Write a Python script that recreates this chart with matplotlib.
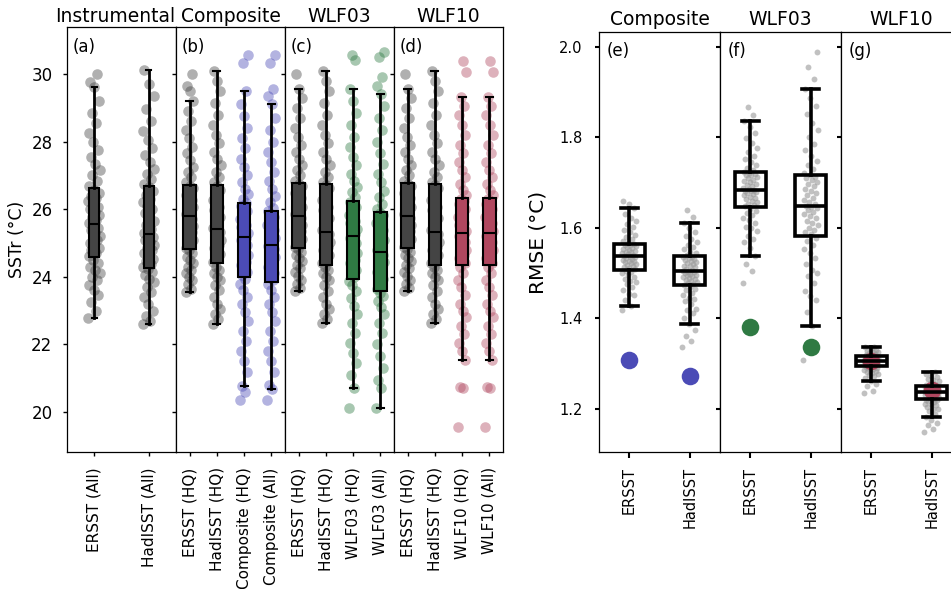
import numpy as np
import matplotlib
matplotlib.use("Agg")
import matplotlib.pyplot as plt

plt.rcParams['font.family'] = ['DejaVu Sans']

# ---------------- data: SSTr panels (a)-(d) ----------------
titles_left = ['Instrumental', 'Composite', 'WLF03', 'WLF10']
panel_left = ['(a)', '(b)', '(c)', '(d)']
labels_a = ['ERSST (All)', 'HadISST (All)']
labels_b = ['ERSST (HQ)', 'HadISST (HQ)', 'Composite (HQ)', 'Composite (All)']
labels_c = ['ERSST (HQ)', 'HadISST (HQ)', 'WLF03 (HQ)', 'WLF03 (All)']
labels_d = ['ERSST (HQ)', 'HadISST (HQ)', 'WLF10 (HQ)', 'WLF10 (All)']

# box statistics per panel: whisker low, Q1, median, Q3, whisker high
stats_a = [[22.78, 24.58, 25.56, 26.62, 29.61], [22.62, 24.27, 25.26, 26.69, 30.12]]
stats_b = [[23.54, 24.82, 25.81, 26.72, 29.19], [22.62, 24.40, 25.41, 26.72, 30.10],
           [20.77, 24.01, 25.18, 26.19, 29.51], [20.67, 23.86, 24.94, 25.96, 29.10]]
stats_c = [[23.57, 24.85, 25.81, 26.77, 29.57], [22.63, 24.34, 25.33, 26.75, 30.10],
           [20.70, 23.94, 25.21, 26.24, 29.57], [20.13, 23.58, 24.74, 25.91, 29.40]]
stats_d = [[23.57, 24.85, 25.81, 26.77, 29.57], [22.63, 24.34, 25.33, 26.75, 30.10],
           [21.54, 24.34, 25.31, 26.32, 29.31], [21.54, 24.34, 25.31, 26.32, 29.31]]

# individual samples
sst_ersst_all = [22.78, 23.0, 23.25, 23.45, 23.6, 23.75, 23.9, 24.0, 24.1, 24.2, 24.3, 24.4, 24.5,
                 24.62, 24.7, 24.78, 24.86, 24.93, 25.0, 25.08, 25.15, 25.22, 25.3, 25.38, 25.45, 25.52,
                 25.6, 25.68, 25.76, 25.84, 25.92, 26.0, 26.08, 26.16, 26.24, 26.32, 26.4, 26.48, 26.58,
                 26.7, 26.85, 27.0, 27.15, 27.35, 27.55, 27.75, 28.0, 28.25, 28.55, 28.85, 29.2, 29.61, 29.75, 30.0]
sst_hadisst_all = [22.62, 22.7, 22.85, 23.0, 23.2, 23.4, 23.55, 23.7, 23.85, 23.95, 24.05, 24.15, 24.22,
                   24.3, 24.38, 24.46, 24.54, 24.62, 24.7, 24.78, 24.86, 24.94, 25.02, 25.1, 25.17, 25.24,
                   25.3, 25.42, 25.54, 25.66, 25.78, 25.9, 26.0, 26.1, 26.2, 26.3, 26.42, 26.54, 26.65,
                   26.75, 26.9, 27.05, 27.2, 27.4, 27.6, 27.8, 28.05, 28.3, 28.6, 28.95, 29.35, 29.7, 30.12]
sst_ersst_hq_b = [23.54, 23.65, 23.78, 23.9, 24.0, 24.1, 24.2, 24.3, 24.4, 24.5, 24.6, 24.7, 24.78,
                  24.86, 24.94, 25.02, 25.1, 25.18, 25.26, 25.34, 25.42, 25.5, 25.58, 25.66, 25.72, 25.78,
                  25.85, 25.92, 25.99, 26.06, 26.13, 26.2, 26.27, 26.34, 26.41, 26.48, 26.55, 26.62, 26.7,
                  26.8, 26.95, 27.1, 27.25, 27.45, 27.65, 27.85, 28.1, 28.35, 28.6, 28.9, 29.19, 29.5, 29.65, 30.0]
sst_hadisst_hq_b = [22.62, 22.75, 22.9, 23.05, 23.2, 23.4, 23.6, 23.75, 23.9, 24.0, 24.1, 24.2, 24.3,
                    24.45, 24.53, 24.61, 24.69, 24.77, 24.85, 24.93, 25.01, 25.09, 25.17, 25.25, 25.32, 25.38,
                    25.45, 25.56, 25.67, 25.78, 25.88, 25.98, 26.08, 26.18, 26.28, 26.38, 26.48, 26.58, 26.68,
                    26.8, 26.95, 27.1, 27.3, 27.5, 27.7, 27.95, 28.2, 28.5, 28.8, 29.15, 29.5, 29.8, 30.1]
sst_comp_hq = [20.35, 20.6, 20.77, 21.2, 21.5, 21.8, 22.1, 22.4, 22.7, 22.95, 23.2, 23.4, 23.6, 23.8, 23.95,
               24.05, 24.15, 24.25, 24.35, 24.45, 24.55, 24.65, 24.75, 24.85, 24.95, 25.03, 25.1, 25.15,
               25.22, 25.3, 25.38, 25.46, 25.54, 25.62, 25.7, 25.78, 25.86, 25.94, 26.02, 26.1, 26.17,
               26.3, 26.45, 26.6, 26.8, 27.0, 27.25, 27.5, 27.8, 28.1, 28.4, 28.75, 29.1, 29.51, 30.32, 30.56]
sst_comp_all = [20.35, 20.67, 20.8, 21.2, 21.5, 21.8, 22.1, 22.4, 22.7, 22.95, 23.2, 23.4, 23.6, 23.78,
                23.9, 24.0, 24.1, 24.2, 24.3, 24.4, 24.5, 24.58, 24.66, 24.74, 24.82, 24.88, 24.92,
                24.98, 25.06, 25.14, 25.22, 25.3, 25.38, 25.46, 25.54, 25.62, 25.7, 25.78, 25.86, 25.94,
                26.05, 26.2, 26.4, 26.6, 26.85, 27.1, 27.4, 27.7, 28.0, 28.35, 28.7, 29.1, 29.35, 29.55, 30.32, 30.56]
sst_ersst_hq = [23.57, 23.68, 23.8, 23.92, 24.03, 24.14, 24.25, 24.36, 24.47, 24.57, 24.66, 24.74, 24.81,
                24.88, 24.96, 25.04, 25.12, 25.2, 25.28, 25.36, 25.44, 25.52, 25.6, 25.67, 25.73, 25.78,
                25.85, 25.92, 26.0, 26.08, 26.16, 26.24, 26.32, 26.4, 26.48, 26.56, 26.63, 26.69, 26.75,
                26.85, 27.0, 27.15, 27.3, 27.5, 27.7, 27.9, 28.15, 28.4, 28.7, 29.0, 29.3, 29.57, 30.0]
sst_hadisst_hq = [22.63, 22.75, 22.9, 23.05, 23.2, 23.4, 23.58, 23.75, 23.9, 24.0, 24.1, 24.2, 24.28,
                  24.4, 24.48, 24.56, 24.64, 24.72, 24.8, 24.88, 24.96, 25.04, 25.12, 25.2, 25.26, 25.31,
                  25.38, 25.5, 25.62, 25.74, 25.86, 25.98, 26.08, 26.18, 26.28, 26.4, 26.52, 26.62, 26.72,
                  26.82, 26.95, 27.1, 27.3, 27.5, 27.7, 27.95, 28.2, 28.5, 28.8, 29.15, 29.5, 29.8, 30.1]
sst_wlf03_hq = [20.12, 20.7, 21.1, 21.45, 21.75, 22.05, 22.35, 22.65, 22.9, 23.15, 23.38, 23.58, 23.75, 23.88,
                24.0, 24.1, 24.2, 24.3, 24.4, 24.5, 24.6, 24.7, 24.8, 24.9, 25.0, 25.08, 25.15,
                25.26, 25.34, 25.42, 25.5, 25.58, 25.66, 25.74, 25.82, 25.9, 25.98, 26.06, 26.13, 26.2,
                26.35, 26.5, 26.65, 26.85, 27.05, 27.3, 27.55, 27.85, 28.15, 28.5, 28.85, 29.2, 29.57, 30.4, 30.56]
sst_wlf03_all = [20.13, 20.7, 20.95, 21.3, 21.65, 22.0, 22.35, 22.65, 22.9, 23.1, 23.28, 23.42, 23.52,
                 23.65, 23.75, 23.85, 23.95, 24.05, 24.15, 24.25, 24.35, 24.45, 24.53, 24.6, 24.66, 24.71,
                 24.8, 24.9, 25.0, 25.1, 25.2, 25.3, 25.4, 25.5, 25.6, 25.68, 25.75, 25.82, 25.88,
                 26.0, 26.15, 26.35, 26.55, 26.8, 27.05, 27.35, 27.65, 28.0, 28.35, 28.7, 29.05, 29.4,
                 29.65, 29.9, 30.5, 30.66]
sst_wlf10 = [19.55, 20.7, 20.75, 21.54, 21.8, 22.05, 22.3, 22.55, 22.8, 23.0, 23.2, 23.45, 23.7, 23.9, 24.1, 24.28,
             24.4, 24.48, 24.56, 24.64, 24.72, 24.8, 24.88, 24.96, 25.04, 25.12, 25.2, 25.25, 25.29,
             25.36, 25.44, 25.52, 25.6, 25.68, 25.76, 25.84, 25.92, 26.0, 26.08, 26.16, 26.23, 26.29,
             26.42, 26.58, 26.75, 26.95, 27.15, 27.4, 27.65, 27.9, 28.2, 28.5, 28.8, 29.05, 29.31, 30.05, 30.38]

samples_a = [sst_ersst_all, sst_hadisst_all]
samples_b = [sst_ersst_hq_b, sst_hadisst_hq_b, sst_comp_hq, sst_comp_all]
samples_c = [sst_ersst_hq, sst_hadisst_hq, sst_wlf03_hq, sst_wlf03_all]
samples_d = [sst_ersst_hq, sst_hadisst_hq, sst_wlf10, sst_wlf10]

# ---------------- data: RMSE panels (e)-(g) ----------------
titles_right = ['Composite', 'WLF03', 'WLF10']
panel_right = ['(e)', '(f)', '(g)']
labels_rmse = ['ERSST', 'HadISST']
stats_e = [[1.427, 1.508, 1.537, 1.565, 1.644], [1.387, 1.475, 1.504, 1.537, 1.611]]
stats_f = [[1.537, 1.646, 1.684, 1.724, 1.836], [1.384, 1.583, 1.649, 1.717, 1.907]]
stats_g = [[1.261, 1.294, 1.305, 1.318, 1.338], [1.183, 1.223, 1.238, 1.251, 1.281]]
proxy_rmse_e = [1.309, 1.274]
proxy_rmse_f = [1.382, 1.338]
proxy_rmse_g = [1.305, 1.242]

rmse_e_ersst = [1.418, 1.427, 1.44, 1.452, 1.455, 1.462, 1.47, 1.477, 1.48, 1.483, 1.488, 1.492, 1.496, 1.5, 1.503, 1.506,
                1.51, 1.512, 1.514, 1.516, 1.518, 1.52, 1.522, 1.524, 1.526, 1.528, 1.53, 1.532, 1.534, 1.535, 1.536,
                1.538, 1.54, 1.542, 1.544, 1.546, 1.548, 1.55, 1.552, 1.554, 1.556, 1.558, 1.56, 1.562, 1.563, 1.564,
                1.567, 1.571, 1.575, 1.58, 1.585, 1.59, 1.596, 1.602, 1.608, 1.615, 1.622, 1.63, 1.644, 1.652, 1.66]
rmse_e_hadisst = [1.338, 1.35, 1.362, 1.375, 1.387, 1.4, 1.412, 1.418, 1.422, 1.431, 1.439, 1.443, 1.446, 1.452, 1.457,
                  1.462, 1.466, 1.47, 1.473,
                  1.477, 1.479, 1.481, 1.483, 1.485, 1.487, 1.489, 1.491, 1.493, 1.495, 1.497, 1.499, 1.501, 1.502, 1.503,
                  1.506, 1.508, 1.51, 1.513, 1.515, 1.517, 1.52, 1.522, 1.525, 1.527, 1.53, 1.532, 1.534, 1.535, 1.536,
                  1.54, 1.544, 1.548, 1.553, 1.558, 1.563, 1.569, 1.575, 1.582, 1.59, 1.6, 1.611, 1.625, 1.64]
rmse_f_ersst = [1.478, 1.505, 1.52, 1.537, 1.555, 1.57, 1.575, 1.582, 1.593, 1.6, 1.602, 1.61, 1.617, 1.623, 1.629,
                1.634, 1.638, 1.642,
                1.648, 1.651, 1.654, 1.657, 1.66, 1.663, 1.666, 1.669, 1.672, 1.675, 1.677, 1.679, 1.681, 1.682, 1.683,
                1.686, 1.689, 1.692, 1.695, 1.698, 1.701, 1.704, 1.707, 1.71, 1.713, 1.716, 1.718, 1.72, 1.722, 1.723,
                1.728, 1.733, 1.739, 1.745, 1.752, 1.76, 1.768, 1.777, 1.787, 1.798, 1.81, 1.822, 1.836, 1.85, 1.868]
rmse_f_hadisst = [1.309, 1.384, 1.415, 1.44, 1.45, 1.46, 1.478, 1.494, 1.5, 1.508, 1.521, 1.533, 1.544, 1.554, 1.563,
                  1.571, 1.578,
                  1.586, 1.591, 1.596, 1.601, 1.606, 1.611, 1.616, 1.621, 1.626, 1.631, 1.636, 1.64, 1.644, 1.647, 1.648,
                  1.652, 1.657, 1.662, 1.667, 1.672, 1.677, 1.682, 1.687, 1.692, 1.697, 1.702, 1.706, 1.71, 1.713, 1.716,
                  1.722, 1.73, 1.739, 1.749, 1.76, 1.772, 1.785, 1.8, 1.816, 1.833, 1.851, 1.87, 1.888, 1.907,
                  1.93, 1.955, 1.989]
rmse_g_ersst = [1.235, 1.24, 1.25, 1.255, 1.261, 1.268, 1.273, 1.275, 1.277, 1.28, 1.282, 1.283, 1.285, 1.287, 1.289,
                1.29, 1.291, 1.292, 1.293,
                1.295, 1.296, 1.297, 1.298, 1.299, 1.3, 1.3, 1.301, 1.302, 1.302, 1.303, 1.303, 1.304, 1.304, 1.305,
                1.306, 1.307, 1.308, 1.308, 1.309, 1.31, 1.311, 1.312, 1.312, 1.313, 1.313, 1.314, 1.315, 1.316, 1.316,
                1.317, 1.317, 1.319, 1.32, 1.322, 1.323, 1.325, 1.327, 1.329, 1.331, 1.333, 1.336, 1.338]
rmse_g_hadisst = [1.15, 1.155, 1.165, 1.17, 1.175, 1.183, 1.19, 1.196, 1.2, 1.201, 1.205, 1.209, 1.21, 1.212, 1.215,
                  1.217, 1.219, 1.22, 1.221, 1.222,
                  1.224, 1.225, 1.226, 1.227, 1.228, 1.229, 1.23, 1.231, 1.232, 1.233, 1.234, 1.235, 1.235, 1.236,
                  1.237, 1.237, 1.239, 1.24, 1.241, 1.242, 1.243, 1.244, 1.245, 1.245, 1.246, 1.247, 1.248, 1.248,
                  1.249, 1.25, 1.25, 1.251, 1.253, 1.255, 1.258, 1.261, 1.264, 1.267, 1.27, 1.274, 1.278, 1.281]

samples_e = [rmse_e_ersst, rmse_e_hadisst]
samples_f = [rmse_f_ersst, rmse_f_hadisst]
samples_g = [rmse_g_ersst, rmse_g_hadisst]

# ---------------- styling ----------------
C_INST = '#444444'
C_COMP = '#4b4bb6'
C_W03 = '#2f7a43'
C_W10 = '#b0475f'
colors_a = [C_INST, C_INST]
colors_b = [C_INST, C_INST, C_COMP, C_COMP]
colors_c = [C_INST, C_INST, C_W03, C_W03]
colors_d = [C_INST, C_INST, C_W10, C_W10]
proxy_colors = [C_COMP, C_W03, C_W10]

W, H = 951, 589
fig = plt.figure(figsize=(W / 100, H / 100), dpi=100)

GOLD = 0.6180339887


def jitter(n, half):
    return np.array([((i * GOLD) % 1.0 - 0.5) * 2 * half for i in range(n)])


def to_stats(s):
    return dict(whislo=s[0], q1=s[1], med=s[2], q3=s[3], whishi=s[4], fliers=[])


left_edges = [67, 176, 285, 394, 503]
left_sets = [(labels_a, stats_a, samples_a, colors_a),
             (labels_b, stats_b, samples_b, colors_b),
             (labels_c, stats_c, samples_c, colors_c),
             (labels_d, stats_d, samples_d, colors_d)]
for k, (labs, stats, samples, cols) in enumerate(left_sets):
    x0, x1 = left_edges[k], left_edges[k + 1]
    ax = fig.add_axes([x0 / W, (H - 452) / H, (x1 - x0) / W, 425 / H])
    n = len(labs)
    unit_px = (x1 - x0) / n
    jit = (6.0 if n == 2 else 4.0) / unit_px
    bw = 10.0 / unit_px if n == 2 else 12.5 / unit_px
    cw = 5.0 / unit_px if n == 2 else 7.0 / unit_px
    for i in range(n):
        vals = np.array(samples[i])
        xs = i + jitter(len(vals), jit)
        ax.scatter(xs, vals, s=58, color=cols[i], alpha=0.42, linewidths=0, zorder=1)
        ax.bxp([to_stats(stats[i])], positions=[i], widths=bw, capwidths=cw,
               patch_artist=True, showfliers=False, manage_ticks=False,
               boxprops=dict(facecolor=cols[i], edgecolor='black', linewidth=1.5),
               medianprops=dict(color='black', linewidth=1.5),
               whiskerprops=dict(color='black', linewidth=2),
               capprops=dict(color='black', linewidth=1.5), zorder=3)
    ax.set_xlim(-0.5, n - 0.5)
    ax.set_ylim(18.82, 31.39)
    ax.set_xticks(range(n))
    ax.set_xticklabels(labs, rotation=90, fontsize=11)
    ax.set_yticks([20, 22, 24, 26, 28, 30])
    ax.tick_params(axis='x', length=3, width=1, pad=8)
    ax.tick_params(axis='y', length=3, width=1, pad=7.5, labelsize=12)
    if k == 0:
        ax.set_ylabel('SSTr (°C)', fontsize=12.5)
        ax.set_title(titles_left[k], fontsize=13.5, pad=3.6, x=0.44)
    else:
        ax.set_yticklabels([])
        ax.set_title(titles_left[k], fontsize=13.5, pad=3.6)
    ax.text(0.05, 0.975, panel_left[k], transform=ax.transAxes, ha='left', va='top', fontsize=12)
    for sp in ax.spines.values():
        sp.set_color('black')
        sp.set_linewidth(0.9)

right_edges = [599, 720, 841, 962]
right_sets = [(stats_e, samples_e, proxy_rmse_e), (stats_f, samples_f, proxy_rmse_f),
              (stats_g, samples_g, proxy_rmse_g)]
for k, (stats, samples, proxy) in enumerate(right_sets):
    x0, x1 = right_edges[k], right_edges[k + 1]
    ax = fig.add_axes([x0 / W, (H - 452) / H, (x1 - x0) / W, 420 / H])
    n = len(labels_rmse)
    for i in range(n):
        vals = np.array(samples[i])
        xs = i + jitter(len(vals), 0.12)
        ax.scatter(xs, vals, s=18, color='#999999', alpha=0.6, linewidths=0, zorder=1)
    ax.scatter(range(n), proxy, s=160, color=proxy_colors[k], linewidths=0, zorder=2)
    ax.bxp([to_stats(s) for s in stats], positions=list(range(n)), widths=0.52, capwidths=0.28,
           patch_artist=True, showfliers=False, manage_ticks=False,
           boxprops=dict(facecolor='none', edgecolor='black', linewidth=2.6),
           medianprops=dict(color='black', linewidth=2.6),
           whiskerprops=dict(color='black', linewidth=2.6),
           capprops=dict(color='black', linewidth=2.6), zorder=3)
    ax.set_xlim(-0.5, n - 0.5)
    ax.set_ylim(1.105, 2.033)
    ax.set_xticks(range(n))
    ax.set_xticklabels(labels_rmse, rotation=90, fontsize=10.5)
    ax.set_yticks([1.2, 1.4, 1.6, 1.8, 2.0])
    ax.set_yticklabels(['1.2', '1.4', '1.6', '1.8', '2.0'])
    ax.tick_params(axis='x', length=4, width=1.5, pad=6.5)
    ax.tick_params(axis='y', length=3, width=1.5, pad=9, labelsize=10.5)
    if k == 0:
        ax.set_ylabel('RMSE (°C)', fontsize=14.5, labelpad=8)
    else:
        ax.set_yticklabels([])
    ax.set_title(titles_right[k], fontsize=13.5, pad=5)
    ax.text(0.066, 0.975, panel_right[k], transform=ax.transAxes, ha='left', va='top', fontsize=12)
    for sp in ax.spines.values():
        sp.set_color('black')
        sp.set_linewidth(0.9)

fig.savefig('out.png', dpi=100)
